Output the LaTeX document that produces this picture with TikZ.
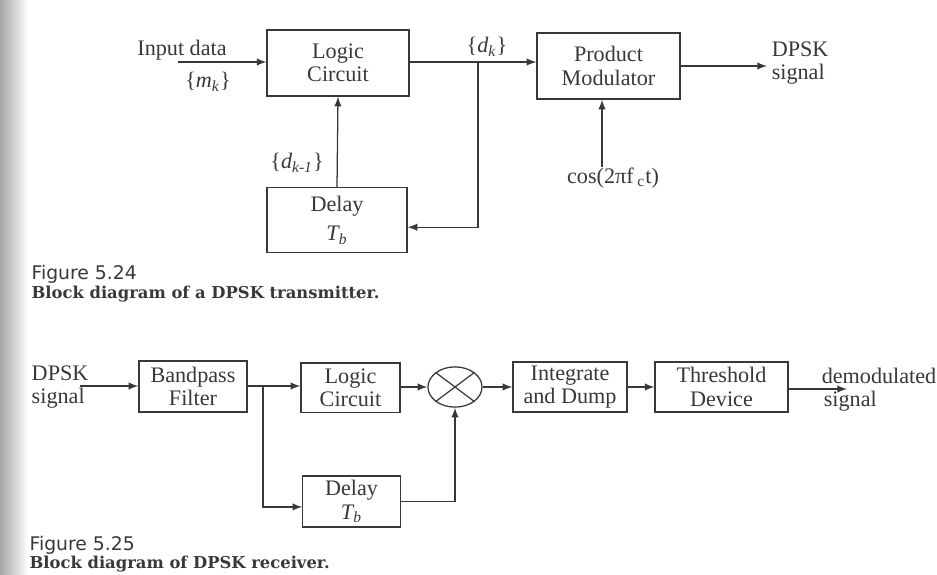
\documentclass[tikz,border=0pt]{standalone}
\usepackage{fontspec}
\setmainfont{Liberation Serif}
\newfontfamily\capsans{DejaVu Sans}
\newfontfamily\capserif{DejaVu Serif}
\usetikzlibrary{arrows,positioning,shapes}
\definecolor{ink}{gray}{0.22}
\newcommand{\seq}[2]{\{\textit{#1}\textsubscript{\textit{#2}}\}}
\tikzset{
	blk/.style={draw=ink, text=ink, align=center, inner sep=1pt},
	lbl/.style={text=ink, inner sep=1pt, align=left},
	sig/.style={->, draw=ink},
	capfig/.style={text=ink, anchor=west, inner sep=0pt, font=\capsans\fontsize{8.9}{10}\selectfont},
	captxt/.style={text=ink, anchor=west, inner sep=0pt, font=\capserif\bfseries\fontsize{7.75}{10}\selectfont},
}

\begin{document}
\begin{tikzpicture}[font=\fontsize{10.5}{11}\selectfont,>=latex,x=0.01665cm,y=-0.01665cm,line width=0.6pt]
		\useasboundingbox (0,0) rectangle (937,575);
		\shade[left color=black!35, right color=white] (0,0) rectangle (28,575);

		% transmitter
		\node[blk, minimum width=2.36cm, minimum height=1.10cm] (logicT) at (338,63) {Logic\\Circuit};
		\node[blk, minimum width=2.33cm, minimum height=1.07cm] (delayT) at (337,220) {Delay\\[3pt]\textit{T\textsubscript{b}}};
		\node[blk, minimum width=2.38cm, minimum height=1.10cm] (prod) at (608.5,66) {Product\\Modulator};

		\node[lbl] (indata) at (182,50) {Input data};
		\node[lbl] (mk) at (208,82) {\seq{m}{k}};
		\node[lbl] (dk) at (487,47) {\seq{d}{k}};
		\node[lbl] (dk1) at (297,163) {\seq{d}{k-1}};
		\node[lbl] (cos) at (613,178) {cos(2πf\,\textsubscript{c}t)};
		\node[lbl, anchor=west] (outT) at (769,63) {DPSK\\signal};

		\coordinate (inT) at (178,62);
		\coordinate (brT) at (478,62);
		\coordinate (cosin) at (602,167);
		\coordinate (endT) at (767,66);

		\draw[sig] (inT) -- (logicT.west |- inT);
		\draw[sig] (logicT.east |- brT) -- (prod.west |- brT);
		\draw[sig] (brT) |- ([yshift=-0.12cm]delayT.east);
		\draw[sig] (delayT.north) -- (logicT.south);
		\draw[sig] (cosin) -- (cosin |- prod.south);
		\draw[sig] (prod.east) -- (endT);

		\node[capfig] (fig24) at (31,274) {Figure 5.24};
		\node[captxt] (cap24) at (31,294) {Block diagram of a DPSK transmitter.};

		% receiver
		\node[blk, minimum width=1.80cm, minimum height=0.85cm] (bpf) at (193,386.5) {Bandpass\\Filter};
		\node[blk, minimum width=1.65cm, minimum height=0.82cm] (logicR) at (350.5,387.5) {Logic\\Circuit};
		\node[blk, minimum width=1.62cm, minimum height=0.85cm] (delayR) at (351.5,501.5) {Delay\\\textit{T\textsubscript{b}}};
		\node[blk, ellipse, minimum width=0.90cm, minimum height=0.67cm, inner sep=0pt] (mult) at (455,387) {};
		\node[blk, minimum width=1.90cm, minimum height=0.83cm] (intg) at (570,387) {Integrate\\and Dump};
		\node[blk, minimum width=2.21cm, minimum height=0.83cm] (thr) at (721.5,387) {Threshold\\Device};

		\draw[ink] (mult.north west) -- (mult.south east);
		\draw[ink] (mult.south west) -- (mult.north east);

		\node[lbl, anchor=west] (inR) at (29,387) {DPSK\\signal};
		\node[lbl, anchor=west] (outR) at (819,390) {demodulated\\\hspace*{1pt}signal};

		\coordinate (startR) at (80,386);
		\coordinate (brR) at (263,386);
		\coordinate (endR) at (847,389);

		\draw[sig] (startR) -- (bpf.west |- startR);
		\draw[sig] (bpf.east |- brR) -- (logicR.west |- brR);
		\draw[sig] (brR) |- ([yshift=-0.09cm]delayR.west);
		\draw[sig] (logicR.east |- mult.west) -- (mult.west);
		\draw[sig] (delayR.east) -| (mult.south);
		\draw[sig] (mult.east) -- (intg.west);
		\draw[sig] (intg.east) -- (thr.west);
		\draw[sig] (thr.east |- endR) -- (endR);

		\node[capfig] (fig25) at (29,545) {Figure 5.25};
		\node[captxt] (cap25) at (29,564) {Block diagram of DPSK receiver.};
\end{tikzpicture}
\end{document}
